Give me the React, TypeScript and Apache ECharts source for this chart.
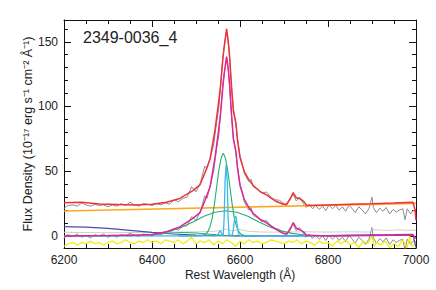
import React, { useEffect, useRef } from "react";
import * as echarts from "echarts";

const X_MIN = 6200;
const X_MAX = 7000;
const Y_MIN = -9.3;
const Y_MAX = 166.8;
const xMajor = [6200, 6400, 6600, 6800, 7000];
const xMinor = [6250, 6300, 6350, 6450, 6500, 6550, 6650, 6700, 6750, 6850, 6900, 6950];
const yMajor = [0, 50, 100, 150];
const yMinor = [10, 20, 30, 40, 60, 70, 80, 90, 110, 120, 130, 140, 160];

const TITLE = "2349-0036_4";

// observed spectrum
const obsFlux: [number, number][] = [
  [6200, 21], [6205, 23], [6210, 23.5], [6220, 24], [6230, 23], [6240, 25.5], [6250, 24], [6260, 23], [6270, 24.5], [6280, 23.5],
  [6290, 24], [6300, 22.5], [6310, 24], [6320, 23], [6330, 25], [6340, 23.5], [6350, 26], [6360, 24], [6370, 23], [6380, 25],
  [6390, 24.5], [6400, 23.5], [6410, 25], [6420, 24], [6430, 25.5], [6440, 24.5], [6450, 28], [6460, 26.5], [6470, 29], [6480, 30],
  [6490, 38], [6500, 34], [6510, 41], [6520, 54], [6525, 52], [6532, 60], [6540, 70], [6547, 88], [6552, 99], [6556, 117],
  [6561, 138], [6564, 146], [6569.5, 158], [6573, 150], [6576, 139], [6581, 113], [6585, 98], [6588, 92], [6591, 85], [6594, 76],
  [6600, 62], [6605, 56], [6610, 48], [6615, 45], [6620, 42], [6625, 44], [6630, 38], [6640, 36], [6650, 33], [6660, 34],
  [6670, 30], [6680, 28], [6690, 27.5], [6700, 25], [6705, 23], [6710, 27], [6715, 30], [6721, 32], [6728, 27], [6735, 30],
  [6742, 26], [6750, 22], [6757, 24.5], [6765, 21], [6772, 23.5], [6780, 20.5], [6788, 23], [6795, 19.5], [6802, 24], [6810, 21],
  [6818, 23.5], [6825, 20], [6833, 22.5], [6840, 19], [6848, 24], [6855, 21], [6862, 18], [6870, 22.5], [6878, 20], [6885, 17],
  [6893, 21], [6900, 30], [6903, 22], [6910, 18], [6918, 21.5], [6925, 19], [6932, 22], [6940, 17], [6948, 20.5], [6955, 18.5],
  [6962, 20], [6970, 21], [6975, 12.5], [6980, 21], [6988, 17], [6995, 20], [7000, 18],
];

// continuum-subtracted observed spectrum
const obsLine: [number, number][] = [
  [6200, -2], [6205, 0.5], [6210, 1], [6220, -0.5], [6230, 1.5], [6240, -1], [6250, 0.5], [6260, -1.5], [6270, 1], [6280, 0],
  [6290, 1.5], [6300, -1], [6310, 0.5], [6320, -1], [6330, 1], [6340, 0], [6350, 2], [6360, 0.5], [6370, -0.5], [6380, 1.5],
  [6390, 1], [6400, 0], [6410, 2], [6420, 1], [6430, 3], [6440, 2.5], [6450, 6], [6460, 4.5], [6470, 7.5], [6480, 8],
  [6490, 15], [6500, 12], [6510, 19], [6520, 31], [6525, 29], [6532, 38], [6540, 50], [6547, 68], [6552, 78], [6556, 96],
  [6561, 117], [6564, 125], [6569.5, 137], [6573, 129], [6576, 117], [6581, 91], [6585, 75], [6588, 70], [6591, 63], [6594, 54],
  [6600, 40], [6605, 34], [6610, 26], [6615, 23], [6620, 20], [6625, 22], [6630, 16], [6640, 14], [6650, 11], [6660, 12],
  [6670, 8], [6680, 6], [6690, 5], [6700, 2], [6705, 0], [6710, 4], [6715, 7], [6721, 9], [6728, 4], [6735, 6.5],
  [6742, 3], [6750, -1], [6757, 1.5], [6765, -2], [6772, 0.5], [6780, -2.5], [6788, 0], [6795, -3.5], [6802, 0.5], [6810, -2.5],
  [6818, 0], [6825, -3.5], [6833, -1], [6840, -4.5], [6848, 0.5], [6855, -2.5], [6862, -5.5], [6870, -1], [6878, -3.5], [6885, -6.5],
  [6893, -2.5], [6900, 6.5], [6903, -1.5], [6910, -5.5], [6918, -2], [6925, -4.5], [6932, -1.5], [6940, -6.5], [6948, -3], [6955, -5],
  [6962, -3.5], [6970, -2.5], [6975, -11], [6980, -2.5], [6988, -6.5], [6995, -3.5], [7000, -5],
];

// residuals (yellow)
const residual: [number, number][] = [
  [6200, -8], [6210, -6], [6220, -5], [6230, -7], [6240, -5], [6250, -6], [6260, -4], [6270, -6], [6280, -5], [6290, -7],
  [6300, -5], [6310, -4], [6320, -6], [6330, -5], [6340, -3], [6350, -5], [6360, -6], [6370, -4], [6380, -5], [6390, -3],
  [6400, -5], [6410, -4], [6420, -6], [6430, -3], [6440, -4], [6450, -5], [6460, -3], [6470, -6], [6480, -4], [6490, -1],
  [6500, -6], [6510, -4], [6520, -5], [6530, -3], [6540, -7], [6550, -4], [6560, -6], [6570, -3], [6580, -5], [6590, -8],
  [6600, -4], [6610, -6], [6620, -3], [6630, -5], [6640, -4], [6650, -6], [6660, -5], [6670, -3], [6680, -4], [6690, -5],
  [6700, -6], [6710, -4], [6720, -5], [6730, -3], [6740, -6], [6750, -4], [6760, -5], [6770, -7], [6780, -4], [6790, -6],
  [6800, -5], [6810, -8], [6820, -4], [6830, -6], [6840, -3], [6850, -7], [6860, -5], [6870, -9], [6880, -4], [6890, -6],
  [6900, 0], [6905, -8], [6910, -5], [6920, -7], [6930, -4], [6940, -9], [6950, -6], [6960, -8], [6970, -3], [6980, -9],
  [6986, 0], [6990, -8], [7000, -6],
];

// light gray line
const lightGray: [number, number][] = [
  [6200, 2.8], [6250, 2.6], [6300, 2.5], [6350, 2.7], [6400, 2.5], [6450, 3], [6500, 3.2], [6540, 3.5], [6560, 4.5], [6570, 5.5],
  [6580, 4], [6600, 5], [6620, 3.5], [6650, 3], [6700, 3], [6750, 3.2], [6800, 3], [6850, 3.2], [6895, 3], [6900, 5],
  [6920, 4.5], [6940, 4.2], [6960, 4.8], [6980, 4.3], [7000, 4.5],
];

// continuum (orange)
const continuum: [number, number][] = [[6200, 19.3], [7000, 25.2]];

// dark blue component
const blueComp: [number, number][] = [
  [6200, 7.2], [6250, 6.8], [6300, 5.8], [6350, 4.3], [6400, 2.8], [6450, 1.5], [6500, 0.7], [6550, 0.2], [6600, 0], [6750, 0],
  [6800, 0.3], [6850, 0.6], [6900, 0.9], [6950, 1.1], [6993, 1.3], [7000, -9],
];

// broad green component
const greenBroad: [number, number][] = [
  [6200, 0], [6300, 0.1], [6368, 0.33], [6393, 0.9], [6418, 2.0], [6443, 3.9], [6468, 7.0], [6493, 10.8], [6518, 15.2], [6543, 18.3],
  [6568, 19.5], [6593, 18.3], [6618, 15.2], [6643, 10.8], [6668, 7.0], [6693, 3.9], [6718, 2.0], [6743, 0.9], [6768, 0.33], [6850, 0.05],
];

// intermediate green component
const greenMid: [number, number][] = [
  [6460, 0], [6500, 0.1], [6512, 0.2], [6522, 1.4], [6527, 3.5], [6532, 7.4], [6537, 14], [6542, 25], [6547, 38], [6552, 51],
  [6557, 60], [6562, 64], [6567, 60], [6572, 51], [6577, 38], [6582, 25], [6587, 14], [6592, 7.4], [6597, 3.5], [6602, 1.4],
  [6612, 0.2], [6640, 0],
];

// weak green component
const greenWeak: [number, number][] = [
  [6340, 0], [6380, 0.6], [6410, 1.4], [6440, 2.2], [6470, 2.7], [6500, 2.3], [6530, 1.4], [6560, 0.5], [6600, 0],
];

// narrow lines (cyan)
const narrow: [number, number][] = [
  [6200, 0], [6545, 0], [6550, 0.8], [6553, 3], [6555, 4], [6557, 3], [6560, 0.5], [6562, 0.5], [6564, 14], [6566, 42],
  [6568.5, 55], [6571, 42], [6573, 14], [6575, 1], [6582, 0.3], [6585, 5], [6587.5, 13], [6590, 15.5], [6592, 13], [6595, 5],
  [6598, 0.5], [6605, 0], [6760, 0],
];

// continuum-subtracted model (magenta)
const lineModel: [number, number][] = [
  [6200, 0], [6300, 0.3], [6400, 1], [6433, 3.3], [6463, 7], [6493, 13.6], [6509, 18], [6520, 27], [6532, 38], [6543, 60],
  [6550, 78], [6556, 95], [6561, 115], [6564, 125], [6569.5, 138.5], [6573, 130], [6576, 119], [6581, 93], [6585, 75], [6588, 70],
  [6591, 65], [6594, 53.5], [6600, 39], [6610, 28], [6620, 22], [6630, 17.5], [6645, 13], [6661, 10], [6680, 5.5], [6698, 2],
  [6706, 1.5], [6714, 5], [6721, 10.3], [6728, 6], [6738, 4.5], [6745, 3], [6751, 0.5], [6800, 0], [6900, 0.3], [6993, 0.8],
  [7000, -2],
];

// total model (red)
const totalModel: [number, number][] = [
  [6200, 25.7], [6240, 26], [6280, 24.7], [6320, 24.3], [6360, 23.9], [6400, 24.5], [6433, 26], [6463, 29], [6493, 35], [6509, 39.5],
  [6520, 48.5], [6532, 59.5], [6543, 81.5], [6550, 99.5], [6556, 116.5], [6561, 136.5], [6564, 146], [6569.5, 160], [6573, 151.5], [6576, 140.5],
  [6581, 114.5], [6585, 96.5], [6588, 91.5], [6591, 86.5], [6594, 75], [6600, 60.5], [6610, 49.5], [6620, 43.5], [6630, 39], [6645, 34.5],
  [6661, 31.5], [6680, 27], [6698, 24.5], [6706, 24.5], [6714, 28.5], [6721, 33.5], [6728, 29.5], [6738, 28.5], [6745, 26.5], [6752, 23.5],
  [6800, 24], [6850, 24.4], [6900, 24.8], [6950, 25.4], [6993, 26], [6998, 20], [7000, 12],
];

const FONT = "Liberation Sans";
const TXT = "#222";

function App() {
  const ref = useRef<HTMLDivElement>(null);
  useEffect(() => {
    if (!ref.current) return;
    const chart = echarts.init(ref.current, undefined, { renderer: "svg" });
    const line = (data: [number, number][], color: string, width: number, z: number) => ({
      type: "line",
      data,
      symbol: "none",
      showSymbol: false,
      silent: true,
      xAxisIndex: 0,
      yAxisIndex: 0,
      z,
      lineStyle: { color, width },
    });
    const xBase = {
      type: "value",
      min: X_MIN,
      max: X_MAX,
      splitLine: { show: false },
    };
    const yBase = {
      type: "value",
      min: Y_MIN,
      max: Y_MAX,
      splitLine: { show: false },
    };
    const plain = (v: number) => String(v);
    const axLine = { show: true, onZero: false, lineStyle: { color: "#111", width: 1 } };
    const noLine = { show: false, onZero: false };
    chart.setOption({
      animation: false,
      backgroundColor: "#fff",
      textStyle: { fontFamily: FONT },
      grid: { left: 64, right: 20, top: 20, bottom: 42, containLabel: false },
      title: {
        text: TITLE,
        left: 78,
        top: 24,
        textStyle: { fontFamily: FONT, fontSize: 16, fontWeight: "normal", color: TXT },
      },
      xAxis: [
        {
          ...xBase,
          position: "bottom",
          axisLine: axLine,
          axisTick: { show: true, inside: true, length: 7, customValues: xMajor, lineStyle: { color: "#111" } },
          axisLabel: { show: true, customValues: xMajor, formatter: plain, margin: 6, fontSize: 12, color: TXT, fontFamily: FONT },
          name: "Rest Wavelength (Å)",
          nameLocation: "middle",
          nameGap: 21,
          nameMoveOverlap: false,
          nameTextStyle: { fontSize: 12, color: TXT, fontFamily: FONT },
        },
        {
          ...xBase,
          position: "bottom",
          axisLine: noLine,
          axisTick: { show: true, inside: true, length: 4, customValues: xMinor, lineStyle: { color: "#111" } },
          axisLabel: { show: false },
        },
        {
          ...xBase,
          position: "top",
          axisLine: axLine,
          axisTick: { show: true, inside: true, length: 7, customValues: xMajor, lineStyle: { color: "#111" } },
          axisLabel: { show: false },
        },
        {
          ...xBase,
          position: "top",
          axisLine: noLine,
          axisTick: { show: true, inside: true, length: 4, customValues: xMinor, lineStyle: { color: "#111" } },
          axisLabel: { show: false },
        },
      ],
      yAxis: [
        {
          ...yBase,
          position: "left",
          axisLine: axLine,
          axisTick: { show: true, inside: true, length: 7, customValues: yMajor, lineStyle: { color: "#111" } },
          axisLabel: { show: true, customValues: yMajor, formatter: plain, margin: 6, fontSize: 12, color: TXT, fontFamily: FONT },
          name: "Flux Density (10⁻¹⁷ erg s⁻¹ cm⁻² Å⁻¹)",
          nameLocation: "middle",
          nameGap: 30,
          nameMoveOverlap: false,
          nameTextStyle: { fontSize: 12.5, color: TXT, fontFamily: FONT },
        },
        {
          ...yBase,
          position: "left",
          axisLine: noLine,
          axisTick: { show: true, inside: true, length: 4, customValues: yMinor, lineStyle: { color: "#111" } },
          axisLabel: { show: false },
        },
        {
          ...yBase,
          position: "right",
          axisLine: axLine,
          axisTick: { show: true, inside: true, length: 7, customValues: yMajor, lineStyle: { color: "#111" } },
          axisLabel: { show: false },
        },
        {
          ...yBase,
          position: "right",
          axisLine: noLine,
          axisTick: { show: true, inside: true, length: 4, customValues: yMinor, lineStyle: { color: "#111" } },
          axisLabel: { show: false },
        },
      ],
      series: [
        line(obsFlux, "#8c8c8c", 1, 2),
        line(obsLine, "#8c8c8c", 1, 2),
        line(residual, "#f2ec00", 1.2, 3),
        line(lightGray, "#cfcfcf", 1, 3),
        line(continuum, "#ffa726", 1.6, 4),
        line(blueComp, "#4a4aa8", 1.2, 4),
        line(greenWeak, "#23b070", 1, 5),
        line(greenBroad, "#23b070", 1.1, 5),
        line(greenMid, "#23b070", 1.1, 5),
        line(narrow, "#3bb8ee", 1.3, 6),
        line(lineModel, "#e0259a", 1.5, 7),
        line(totalModel, "#ee3338", 1.5, 8),
      ],
    });
    return () => chart.dispose();
  }, []);
  return (
    <div
      ref={ref}
      style={{ position: "fixed", left: 0, top: 0, width: 436, height: 290, background: "#fff" }}
    />
  );
}

export default App;
